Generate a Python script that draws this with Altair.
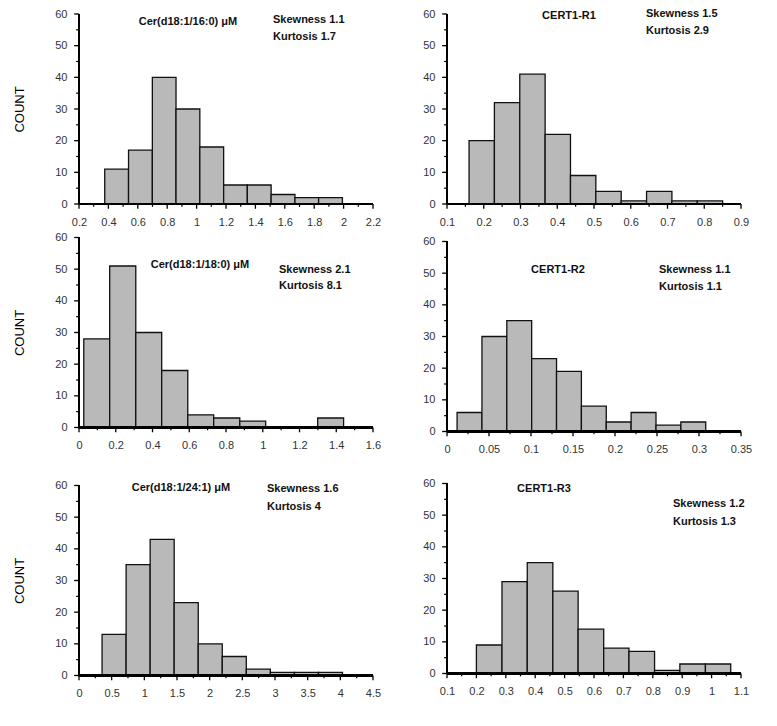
import altair as alt
import pandas as pd

# ---------------- data ----------------
p1_edges = [0.375, 0.537, 0.699, 0.860, 1.022, 1.184, 1.345, 1.507, 1.669, 1.830, 1.992]
p1_counts = [11, 17, 40, 30, 18, 6, 6, 3, 2, 2]
p1_xticks = [0.2, 0.4, 0.6, 0.8, 1.0, 1.2, 1.4, 1.6, 1.8, 2.0, 2.2]
p1_xminor = [0.3, 0.5, 0.7, 0.9, 1.1, 1.3, 1.5, 1.7, 1.9, 2.1]

p2_edges = [0.160, 0.229, 0.298, 0.367, 0.436, 0.505, 0.574, 0.643, 0.712, 0.781, 0.850]
p2_counts = [20, 32, 41, 22, 9, 4, 1, 4, 1, 1]
p2_xticks = [0.1, 0.2, 0.3, 0.4, 0.5, 0.6, 0.7, 0.8, 0.9]
p2_xminor = [0.15, 0.25, 0.35, 0.45, 0.55, 0.65, 0.75, 0.85]

p3_edges = [0.026, 0.167, 0.309, 0.450, 0.592, 0.733, 0.875, 1.016, 1.157, 1.299, 1.440]
p3_counts = [28, 51, 30, 18, 4, 3, 2, 0, 0, 3]
p3_xticks = [0, 0.2, 0.4, 0.6, 0.8, 1.0, 1.2, 1.4, 1.6]
p3_xminor = [0.1, 0.3, 0.5, 0.7, 0.9, 1.1, 1.3, 1.5]

p4_edges = [0.012, 0.0416, 0.0712, 0.1008, 0.1304, 0.160, 0.1896, 0.2192, 0.2488, 0.2784, 0.308]
p4_counts = [6, 30, 35, 23, 19, 8, 3, 6, 2, 3]
p4_xticks = [0, 0.05, 0.1, 0.15, 0.2, 0.25, 0.3, 0.35]
p4_xminor = [0.025, 0.075, 0.125, 0.175, 0.225, 0.275, 0.325]

p5_edges = [0.353, 0.721, 1.089, 1.457, 1.825, 2.193, 2.561, 2.929, 3.297, 3.665, 4.033]
p5_counts = [13, 35, 43, 23, 10, 6, 2, 1, 1, 1]
p5_xticks = [0, 0.5, 1, 1.5, 2, 2.5, 3, 3.5, 4, 4.5]
p5_xminor = [0.25, 0.75, 1.25, 1.75, 2.25, 2.75, 3.25, 3.75, 4.25]

p6_edges = [0.200, 0.287, 0.373, 0.460, 0.546, 0.633, 0.719, 0.806, 0.892, 0.979, 1.065]
p6_counts = [9, 29, 35, 26, 14, 8, 7, 1, 3, 3]
p6_xticks = [0.1, 0.2, 0.3, 0.4, 0.5, 0.6, 0.7, 0.8, 0.9, 1.0, 1.1]
p6_xminor = [0.15, 0.25, 0.35, 0.45, 0.55, 0.65, 0.75, 0.85, 0.95, 1.05]

y_ticks = [0, 10, 20, 30, 40, 50, 60]
y_minor = [5, 15, 25, 35, 45, 55]

titles = ["Cer(d18:1/16:0) \u03bcM", "CERT1-R1", "Cer(d18:1/18:0) \u03bcM",
          "CERT1-R2", "Cer(d18:1/24:1) \u03bcM", "CERT1-R3"]
skewness = ["Skewness 1.1", "Skewness 1.5", "Skewness 2.1",
            "Skewness 1.1", "Skewness 1.6", "Skewness 1.2"]
kurtosis = ["Kurtosis 1.7", "Kurtosis 2.9", "Kurtosis 8.1",
            "Kurtosis 1.1", "Kurtosis 4", "Kurtosis 1.3"]

FONT = "Liberation Sans"
W, H = 304, 200
YMAX = 60
MAJOR_PX, MINOR_PX = 5, 3  # tick lengths in pixels

AXIS_STYLE = dict(domain=False, ticks=False, tickSize=0, labelFont=FONT,
                  labelColor="#333333", labelFontSize=11, labelPadding=7,
                  labelFlush=False, labelOverlap=False, grid=False)

LINE = dict(stroke="#000000", fillOpacity=0)


def note(text, x, y, align):
    return alt.Chart(pd.DataFrame({"t": [text]})).mark_text(
        align=align, baseline="middle", font=FONT, fontSize=11,
        fontWeight="bold", color="#111111"
    ).encode(x=alt.value(x), y=alt.value(y), text="t:N")


def panel(edges, counts, xticks, xminor, idx, pos, ytitle=None, tpad=28):
    df = pd.DataFrame({"x0": edges[:-1], "x1": edges[1:], "n": counts})
    xmin, xmax = xticks[0], xticks[-1]
    xs = alt.Scale(domain=[xmin, xmax], nice=False, zero=False)
    ys = alt.Scale(domain=[0, YMAX], nice=False, zero=False)
    yaxis_kw = dict(AXIS_STYLE, values=y_ticks, tickCount=len(y_ticks),
                    minExtent=0 if ytitle else 20)
    if ytitle:
        yaxis_kw.update(title=ytitle, titleFont=FONT, titleFontSize=13,
                        titleFontWeight="normal", titleColor="#000000",
                        titlePadding=tpad)
    else:
        yaxis_kw.update(title=None)
    xaxis_kw = dict(AXIS_STYLE, values=xticks, tickCount=len(xticks),
                    format="~g", title=None)

    bars = alt.Chart(df).mark_bar(
        fill="#b9b9b9", stroke="#111111", strokeWidth=1.3
    ).encode(
        x=alt.X("x0:Q", scale=xs, axis=alt.Axis(**xaxis_kw)),
        x2="x1:Q",
        y=alt.Y("n:Q", scale=ys, axis=alt.Axis(**yaxis_kw)),
        y2=alt.datum(0),
    )
    # axis lines (drawn through the panel's own scales)
    xline = alt.Chart(df).mark_rect(strokeWidth=1.8, **LINE).encode(
        x=alt.datum(xmin, scale=xs), x2=alt.datum(xmax),
        y=alt.datum(0, scale=ys), y2=alt.datum(0))
    yline = alt.Chart(df).mark_rect(strokeWidth=1.8, **LINE).encode(
        x=alt.datum(xmin, scale=xs), x2=alt.datum(xmin),
        y=alt.datum(0, scale=ys), y2=alt.datum(YMAX))

    # outward tick marks; lengths converted from pixels to data units
    ux = (xmax - xmin) / W
    uy = YMAX / H
    xt_major = alt.Chart(pd.DataFrame({"v": xticks})).mark_bar(
        color="#000000", size=1.3
    ).encode(x=alt.X("v:Q", scale=xs), y=alt.datum(0, scale=ys),
             y2=alt.datum(-MAJOR_PX * uy))
    xt_minor = alt.Chart(pd.DataFrame({"v": xminor})).mark_bar(
        color="#000000", size=1.2
    ).encode(x=alt.X("v:Q", scale=xs), y=alt.datum(0, scale=ys),
             y2=alt.datum(-MINOR_PX * uy))
    yt_major = alt.Chart(pd.DataFrame({"v": y_ticks})).mark_bar(
        color="#000000", size=1.3
    ).encode(y=alt.Y("v:Q", scale=ys), x=alt.datum(xmin, scale=xs),
             x2=alt.datum(xmin - MAJOR_PX * ux))
    yt_minor = alt.Chart(pd.DataFrame({"v": y_minor})).mark_bar(
        color="#000000", size=1.2
    ).encode(y=alt.Y("v:Q", scale=ys), x=alt.datum(xmin, scale=xs),
             x2=alt.datum(xmin - MINOR_PX * ux))

    (tx, ty), (sx, sy), (kx, ky) = pos
    layers = [bars, xline, yline, xt_major, xt_minor, yt_major, yt_minor,
              note(titles[idx], tx, ty, "center"),
              note(skewness[idx], sx, sy, "left"),
              note(kurtosis[idx], kx, ky, "left")]
    return alt.layer(*layers).properties(width=W, height=H)


p1 = panel(p1_edges, p1_counts, p1_xticks, p1_xminor, 0,
           [(114, 13), (199, 11), (199, 28)], ytitle="COUNT")
p3 = panel(p3_edges, p3_counts, p3_xticks, p3_xminor, 2,
           [(126, 32), (205, 37), (205, 53)], ytitle="COUNT")
p5 = panel(p5_edges, p5_counts, p5_xticks, p5_xminor, 4,
           [(107, 7), (193, 8), (193, 26)], ytitle="COUNT")

p2 = panel(p2_edges, p2_counts, p2_xticks, p2_xminor, 1,
           [(127, 7), (204, 5), (204, 22)])
p4 = panel(p4_edges, p4_counts, p4_xticks, p4_xminor, 3,
           [(116, 33), (217, 33), (217, 50)])
p6 = panel(p6_edges, p6_counts, p6_xticks, p6_xminor, 5,
           [(102, 10), (231, 25), (231, 43)])

left = alt.vconcat(alt.vconcat(p1, p3, spacing=4.5), p5, spacing=28.5)
right = alt.vconcat(p2, alt.vconcat(p4, p6, spacing=23), spacing=8.5)

chart = alt.hconcat(left, right, spacing=41).properties(
    padding={"left": 5, "top": 0, "right": 0, "bottom": 0}
).configure_view(stroke=None)

chart.save("out.html", embed_options={"renderer": "svg", "actions": False})
